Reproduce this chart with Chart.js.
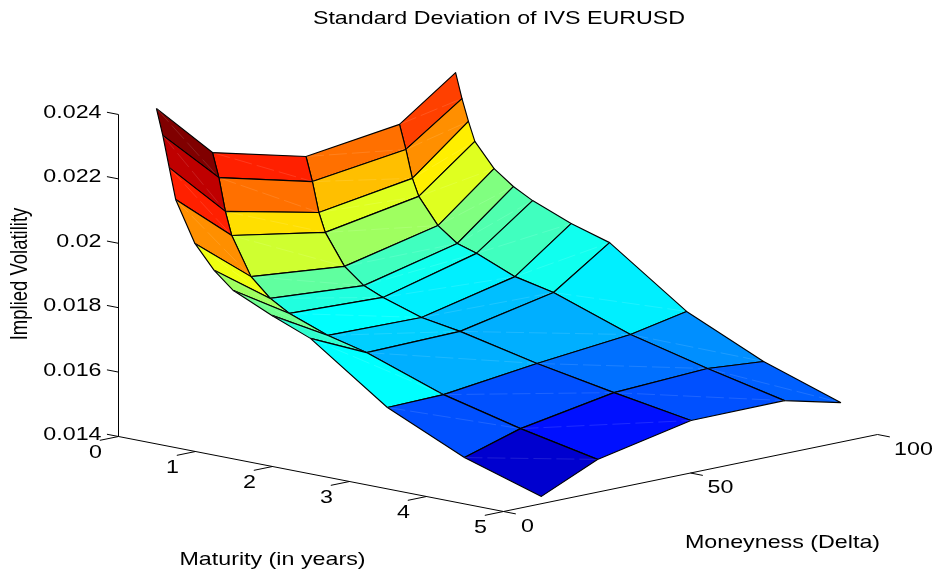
<!DOCTYPE html>
<html>
<head>
<meta charset="utf-8">
<style>html,body{margin:0;padding:0;background:#fff}canvas{display:block}</style>
<script src="https://cdn.jsdelivr.net/npm/chart.js@4"></script>
</head>
<body>
<canvas id="c" width="937" height="573"></canvas>
<script>
const maturities = [0, 0.083, 0.167, 0.25, 0.5, 0.75, 1, 1.5, 2, 3, 4, 5];
const moneyness = [10, 25, 50, 75, 90];
const volDelta10 = [0.02395,0.02315,0.02219,0.02124,0.01999,0.01927,0.01876,0.01822,0.01774,0.01606,0.01497,0.01423];
const volDelta25 = [0.02222,0.02148,0.02047,0.01976,0.01860,0.01804,0.01769,0.01724,0.01694,0.01610,0.01551,0.01502];
const volDelta50 = [0.02150,0.02076,0.01984,0.01926,0.01832,0.01784,0.01759,0.01720,0.01700,0.01647,0.01603,0.01563];
const volDelta75 = [0.02190,0.02116,0.02030,0.01978,0.01899,0.01855,0.01836,0.01787,0.01761,0.01677,0.01618,0.01565];
const volDelta90 = [0.02315,0.02238,0.02171,0.02113,0.02040,0.01996,0.01964,0.01916,0.01880,0.01713,0.01604,0.01523];
const volGrid = [volDelta10, volDelta25, volDelta50, volDelta75, volDelta90];
const volTicks = [0.014, 0.016, 0.018, 0.02, 0.022, 0.024];
const volTickLabels = ['0.014','0.016','0.018','0.02','0.022','0.024'];
const maturityTicks = [0,1,2,3,4,5];
const moneynessTicks = [0,50,100];
const titleText = 'Standard Deviation of IVS EURUSD';
const maturityLabel = 'Maturity (in years)';
const moneynessLabel = 'Moneyness (Delta)';
const volLabel = 'Implied Volatility';

// Orthographic view of the 3D box, expressed in chart units
const view = {x0:118.5, xT:77, xD:3.74, y0:436.5, yT:15, yD:-0.77, yZ:32200, zBase:0.014};
const surfaceShiftX = 0.5;
function project(t, d, z){
  return {
    x: view.x0 + view.xT*t + view.xD*d,
    y: view.y0 + view.yT*t + view.yD*d - view.yZ*(z - view.zBase)
  };
}
function projectSurface(t, d, z){
  const p = project(t, d, z);
  return {x: p.x + surfaceShiftX, y: p.y};
}
const vMin = Math.min(...volGrid.flat());
const colorCeiling = 0.0238;
function jet(v){
  const level = Math.max(0, Math.min(63, Math.floor((v - vMin)/(colorCeiling - vMin)*64)));
  const u = (level + 1)/64;
  const c = a => Math.round(255*Math.max(0, Math.min(1, a)));
  return `rgb(${c(Math.min(4*u-1.5, -4*u+4.5))},${c(Math.min(4*u-0.5, -4*u+3.5))},${c(Math.min(4*u+0.5, -4*u+2.5))})`;
}

const drawList = [];
function axisLine(points){
  drawList.push({data:points, showLine:true, borderColor:'#000', borderWidth:1, pointRadius:0, fill:false, tension:0});
}
// box axes and ticks
const lowVol = view.zBase, highVol = volTicks[volTicks.length-1];
axisLine([project(0,0,lowVol), project(0,0,highVol)]);
axisLine([project(0,0,lowVol), project(5,0,lowVol)]);
axisLine([project(5,0,lowVol), project(5,100,lowVol)]);
volTicks.forEach(v => axisLine([project(0,0,v), project(-0.15,0,v)]));
maturityTicks.forEach(t => axisLine([project(t,0,lowVol), project(t,-5,lowVol)]));
moneynessTicks.forEach(d => axisLine([project(5,d,lowVol), project(5.16,d,lowVol)]));

// surface, painted from the far corner to the near corner
for (let i = 0; i < maturities.length-1; i++){
  for (let j = moneyness.length-2; j >= 0; j--){
    const a = projectSurface(maturities[i], moneyness[j], volGrid[j][i]);
    const b = projectSurface(maturities[i], moneyness[j+1], volGrid[j+1][i]);
    const c = projectSurface(maturities[i+1], moneyness[j+1], volGrid[j+1][i+1]);
    const e = projectSurface(maturities[i+1], moneyness[j], volGrid[j][i+1]);
    const col = jet(volGrid[j][i]);
    drawList.push({data:[a,b,c,e,a], showLine:true, fill:'shape', backgroundColor:col,
      borderColor:'#000', borderWidth:1.15, pointRadius:0, tension:0, borderJoinStyle:'round'});
    drawList.push({data:[a,c], showLine:true, fill:false, borderColor:'rgba(255,255,255,0.2)',
      borderWidth:0.6, borderDash:[18,5], pointRadius:0, tension:0});
  }
}

const stretch = 1.257;
function stretchedText(ctx, text, x, y, align, rotate){
  ctx.save();
  ctx.translate(x, y);
  ctx.scale(stretch, 1);
  if (rotate) ctx.rotate(-Math.PI/2);
  ctx.font = '18.5px "Liberation Sans", Arial, sans-serif';
  ctx.fillStyle = '#000';
  ctx.textAlign = align;
  ctx.textBaseline = 'middle';
  ctx.fillText(text, 0, 0);
  ctx.restore();
}
const labelsPlugin = {
  id:'boxLabels',
  afterDraw(chart){
    const {ctx, scales:{x:sx, y:sy}} = chart;
    const at = p => ({x:sx.getPixelForValue(p.x), y:sy.getPixelForValue(p.y)});
    volTicks.forEach((v,i) => {
      const p = at(project(0,0,v));
      stretchedText(ctx, volTickLabels[i], p.x-17, p.y-1.5, 'right');
    });
    maturityTicks.forEach(t => {
      const p = at(project(t,0,lowVol));
      stretchedText(ctx, String(t), p.x-23, p.y+16, 'center');
    });
    moneynessTicks.forEach(d => {
      const p = at(project(5,d,lowVol));
      stretchedText(ctx, String(d), p.x+24+0.12*d, p.y+15, 'center');
    });
    stretchedText(ctx, titleText, 499, 19, 'center');
    stretchedText(ctx, maturityLabel, 272.5, 560, 'center');
    stretchedText(ctx, moneynessLabel, 782.5, 543, 'center');
    stretchedText(ctx, volLabel, 21, 274, 'center', true);
  }
};

new Chart(document.getElementById('c'), {
  type:'scatter',
  data:{datasets: drawList.slice().reverse()},
  plugins:[labelsPlugin],
  options:{
    responsive:false,
    animation:false,
    layout:{padding:0},
    clip:false,
    events:[],
    scales:{
      x:{type:'linear', min:0, max:937, display:false},
      y:{type:'linear', min:0, max:573, reverse:true, display:false}
    },
    plugins:{legend:{display:false}, tooltip:{enabled:false}, title:{display:false}}
  }
});
</script>
</body>
</html>
